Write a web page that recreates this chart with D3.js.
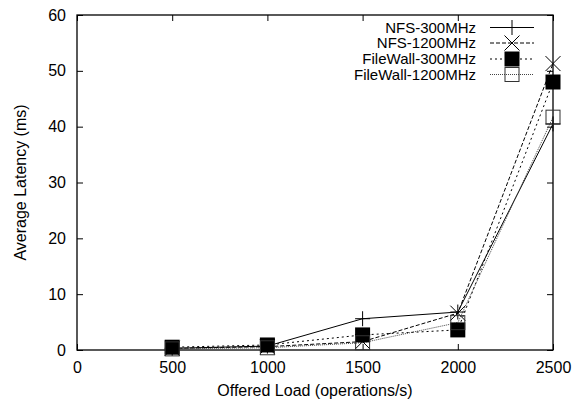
<!DOCTYPE html>
<html><head><meta charset="utf-8">
<script src="https://cdn.jsdelivr.net/npm/d3@7"></script>
<style>body{margin:0;background:#fff}svg{display:block}text{font-family:"Liberation Sans",Arial,sans-serif;fill:#000}</style>
</head><body><svg id="c" width="582" height="403"></svg>
<script>
const loads = [500, 1000, 1500, 2000, 2500];
const nfs300 = [0.3, 0.7, 5.6, 6.8, 40.5];
const nfs1200 = [0.3, 0.6, 1.5, 6.6, 51.3];
const fw300 = [0.5, 0.9, 2.7, 3.6, 48.0];
const fw1200 = [0.2, 0.4, 1.3, 4.9, 41.7];
const seriesNames = ["NFS-300MHz", "NFS-1200MHz", "FileWall-300MHz", "FileWall-1200MHz"];
const xTicks = [0, 500, 1000, 1500, 2000, 2500];
const yTicks = [0, 10, 20, 30, 40, 50, 60];

const series = [
  {name: seriesNames[0], vals: nfs300, dash: null, stroke: "#000", marker: "plus"},
  {name: seriesNames[1], vals: nfs1200, dash: "4,2", stroke: "#000", marker: "cross"},
  {name: seriesNames[2], vals: fw300, dash: "2,3", stroke: "#000", marker: "fsquare"},
  {name: seriesNames[3], vals: fw1200, dash: "1,1", stroke: "#444", marker: "osquare"}
];

const L = 77, R = 553, T = 15, B = 350;
const svg = d3.select("#c");
const x = d3.scaleLinear().domain([0, 2500]).range([L, R]);
const y = d3.scaleLinear().domain([0, 60]).range([B, T]);

const tl = 6;
const gx = svg.append("g").attr("transform", `translate(0,${B})`)
  .call(d3.axisBottom(x).tickValues(xTicks).tickSize(-tl).tickPadding(12).tickFormat(d3.format("d")));
const gxt = svg.append("g").attr("transform", `translate(0,${T})`)
  .call(d3.axisTop(x).tickValues(xTicks).tickSize(-tl).tickFormat(""));
const gy = svg.append("g").attr("transform", `translate(${L},0)`)
  .call(d3.axisLeft(y).tickValues(yTicks).tickSize(-tl).tickPadding(11).tickFormat(d3.format("d")));
const gyr = svg.append("g").attr("transform", `translate(${R},0)`)
  .call(d3.axisRight(y).tickValues(yTicks).tickSize(-tl).tickFormat(""));
[gx, gxt, gy, gyr].forEach(g => {
  g.select(".domain").remove();
  g.selectAll("line").attr("stroke", "#000");
  g.selectAll("text").style("font-size", "16px").style("font-family", '"Liberation Sans",Arial,sans-serif');
});
gx.selectAll("text").attr("dy", "0.71em");

svg.append("rect").attr("x", L).attr("y", T).attr("width", R - L).attr("height", B - T)
  .attr("fill", "none").attr("stroke", "#000").attr("stroke-width", 1.3);

svg.append("text").attr("x", (L + R) / 2).attr("y", 396).attr("text-anchor", "middle")
  .style("font-size", "16px").text("Offered Load (operations/s)");
svg.append("text").attr("transform", `translate(26,${(T + B) / 2}) rotate(-90)`).attr("text-anchor", "middle")
  .style("font-size", "16px").text("Average Latency (ms)");

function drawMarker(g, type, cx, cy) {
  const s = 7.5;
  if (type === "plus") {
    g.append("path").attr("d", `M${cx - s},${cy}H${cx + s}M${cx},${cy - s}V${cy + s}`).attr("stroke", "#000").attr("stroke-width", 1).attr("fill", "none");
  } else if (type === "cross") {
    g.append("path").attr("d", `M${cx - s},${cy - s}L${cx + s},${cy + s}M${cx - s},${cy + s}L${cx + s},${cy - s}`).attr("stroke", "#000").attr("stroke-width", 1).attr("fill", "none");
  } else if (type === "fsquare") {
    g.append("rect").attr("x", cx - s).attr("y", cy - s).attr("width", 2 * s).attr("height", 2 * s).attr("fill", "#000");
  } else {
    g.append("rect").attr("x", cx - s + 0.5).attr("y", cy - s + 0.5).attr("width", 2 * s - 1).attr("height", 2 * s - 1).attr("fill", "none").attr("stroke", "#333").attr("stroke-width", 1);
  }
}

const line = d3.line().x((d, i) => x(loads[i])).y(d => y(d));
series.forEach(s => {
  svg.append("path").attr("d", line(s.vals)).attr("fill", "none").attr("stroke", s.stroke)
    .attr("stroke-width", 1).attr("stroke-dasharray", s.dash);
});
series.forEach(s => {
  const g = svg.append("g");
  s.vals.forEach((v, i) => drawMarker(g, s.marker, x(loads[i]), y(v)));
});

const legY = [27.5, 43, 59, 74.5];
series.forEach((s, i) => {
  const g = svg.append("g");
  g.append("text").attr("x", 476).attr("y", legY[i]).attr("dy", "0.36em").attr("text-anchor", "end")
    .style("font-size", "15px").text(s.name);
  g.append("line").attr("x1", 490).attr("x2", 534).attr("y1", legY[i]).attr("y2", legY[i])
    .attr("stroke", s.stroke).attr("stroke-width", 1).attr("stroke-dasharray", s.dash);
  drawMarker(g, s.marker, 512, legY[i]);
});
</script></body></html>
